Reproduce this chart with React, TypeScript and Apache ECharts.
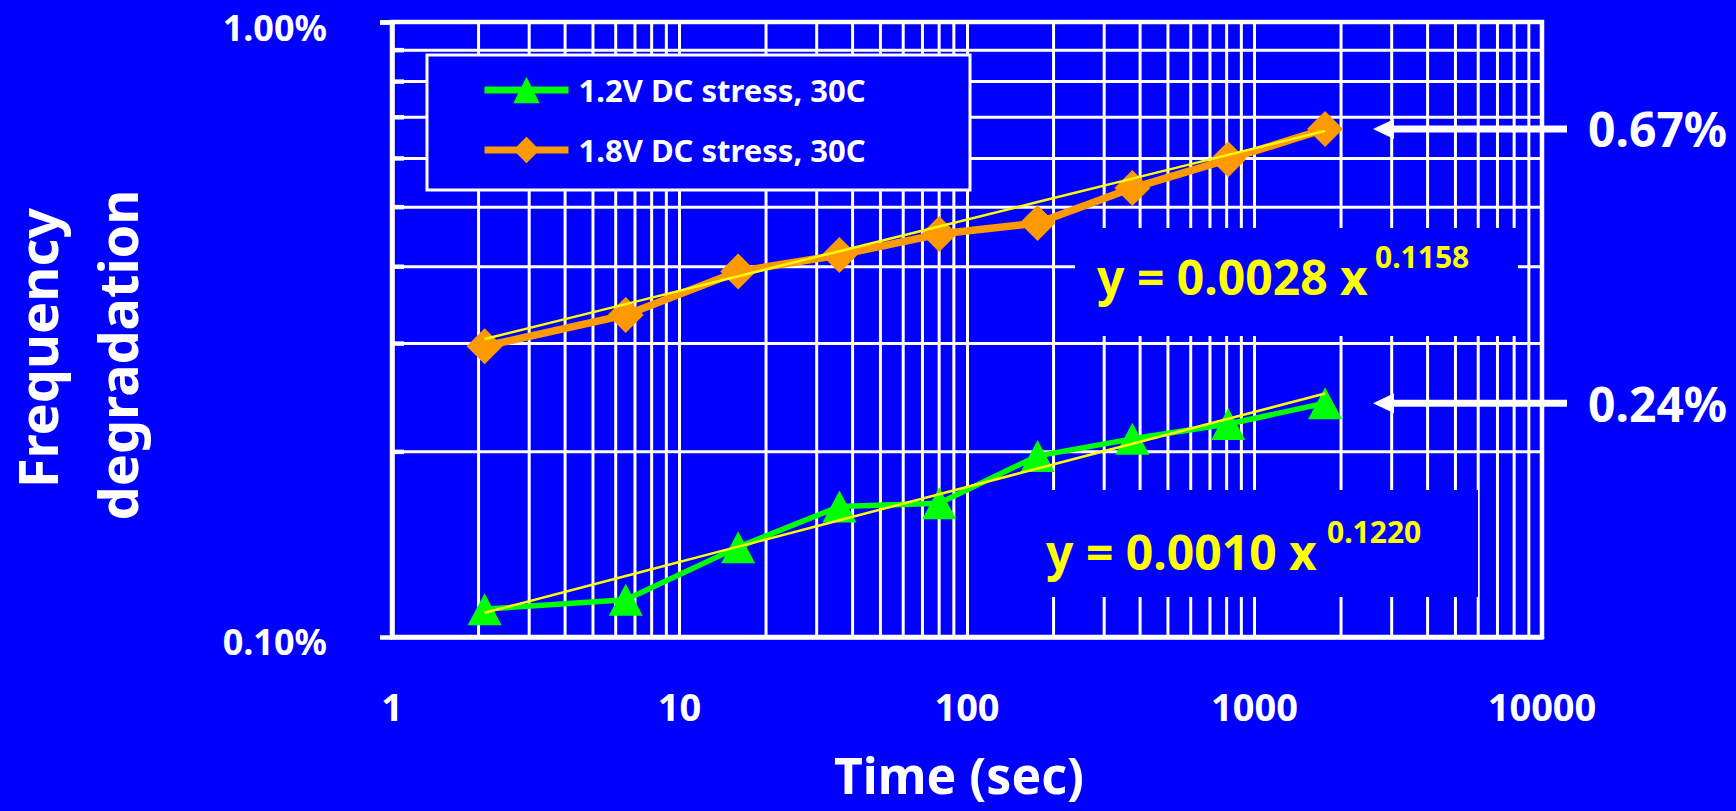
import React, { useEffect, useRef } from "react";
import * as echarts from "echarts";

// Stress time (s) and measured frequency degradation (fraction)
const timeSec = [2.1, 6.5, 16, 36, 80, 176, 376, 810, 1760];
const deg12V = [0.00111, 0.00115, 0.0014, 0.00163, 0.00165, 0.00197, 0.0021, 0.00222, 0.0024];
const deg18V = [0.00297, 0.00334, 0.00393, 0.00418, 0.00452, 0.00471, 0.00537, 0.00598, 0.0067];

const seriesNames = ["1.2V DC stress, 30C", "1.8V DC stress, 30C"];

// Power-law fits y = a * x^b, as printed next to each curve
const fitCoef12V = { a: 0.001, b: 0.122 };
const fitCoef18V = { a: 0.0028, b: 0.1158 };
const fitMainText = ["y = 0.0010 x", "y = 0.0028 x"];
const fitExpText = ["0.1220", "0.1158"];

// Final values called out at the right
const calloutValues = [0.0067, 0.0024];
const calloutLabels = ["0.67%", "0.24%"];

// Axis ranges and minor grid steps (log decades)
const X_MIN = 1;
const X_MAX = 10000;
const Y_MIN = 0.001;
const Y_MAX = 0.01;
const yTickValues = [Y_MIN, Y_MAX];
const xDecades = [1, 10, 100, 1000];
const yDecades = [0.001];
const minorSteps = [2, 3, 4, 5, 6, 7, 8, 9];

const BLUE = "#0000ff";
const WHITE = "#ffffff";
const GREEN = "#00ff00";
const ORANGE = "#ff9900";
const YELLOW = "#ffff00";
const FONT = '"Noto Sans", "Open Sans", sans-serif';
const GRID_W = 3;

const minorGrid = [
  ...xDecades.flatMap((d) => minorSteps.map((m) => [d * m, Y_MIN, 0])),
  ...yDecades.flatMap((d) => minorSteps.map((m) => [X_MIN, d * m, 1])),
];

const fitLine = (c: { a: number; b: number }) =>
  timeSec.map((t) => [t, c.a * Math.pow(t, c.b)]);

const pct = (v: number) => (v * 100).toFixed(2) + "%";

export default function App() {
  const ref = useRef<HTMLDivElement>(null);

  useEffect(() => {
    const el = ref.current;
    if (!el) return;
    const chart = echarts.init(el, null, { renderer: "svg" });

    chart.setOption({
      animation: false,
      backgroundColor: BLUE,
      grid: {
        left: 392,
        top: 22,
        width: 1150,
        height: 615,
        show: true,
        backgroundColor: "transparent",
        borderColor: WHITE,
        borderWidth: 4.5,
      },
      legend: {
        data: seriesNames,
        orient: "vertical",
        left: 481,
        top: 73.5,
        padding: 0,
        itemWidth: 84,
        itemHeight: 33,
        itemGap: 27,
        selectedMode: false,
        lineStyle: { width: 7 },
        textStyle: {
          color: WHITE,
          fontSize: 31,
          lineHeight: 33,
          fontWeight: "bold",
          fontFamily: FONT,
          padding: [0, 0, 0, 5],
        },
        z: 6,
      },
      xAxis: {
        type: "log",
        logBase: 10,
        min: X_MIN,
        max: X_MAX,
        axisLine: { show: true, lineStyle: { color: WHITE, width: 4.5 } },
        axisTick: { show: false },
        axisLabel: {
          color: WHITE,
          fontSize: 38,
          fontWeight: "bold",
          fontFamily: FONT,
          margin: 50,
          formatter: (v: number) => String(Math.round(v)),
        },
        splitLine: { show: true, lineStyle: { color: WHITE, width: GRID_W } },
      },
      yAxis: {
        type: "log",
        logBase: 10,
        min: Y_MIN,
        max: Y_MAX,
        axisLine: { show: true, lineStyle: { color: WHITE, width: 4.5 } },
        axisTick: { show: true, inside: false, length: 12, lineStyle: { color: WHITE, width: 4.5 } },
        axisLabel: { show: false },
        splitLine: { show: true, lineStyle: { color: WHITE, width: GRID_W } },
      },
      series: [
        {
          type: "custom",
          name: "minor-grid",
          coordinateSystem: "cartesian2d",
          silent: true,
          z: 0.5,
          data: minorGrid,
          renderItem: (_params: any, api: any) => {
            const kind = api.value(2);
            if (kind === 0) {
              const x = api.value(0);
              const a = api.coord([x, Y_MIN]);
              const b = api.coord([x, Y_MAX]);
              return {
                type: "line",
                shape: { x1: a[0], y1: a[1], x2: b[0], y2: b[1] },
                style: { stroke: WHITE, lineWidth: GRID_W },
              };
            }
            const y = api.value(1);
            const a = api.coord([X_MIN, y]);
            const b = api.coord([X_MAX, y]);
            return {
              type: "group",
              children: [
                {
                  type: "line",
                  shape: { x1: a[0], y1: a[1], x2: b[0], y2: b[1] },
                  style: { stroke: WHITE, lineWidth: GRID_W },
                },
                {
                  type: "line",
                  shape: { x1: a[0], y1: a[1], x2: a[0] + 12, y2: a[1] },
                  style: { stroke: WHITE, lineWidth: 4.5 },
                },
              ],
            };
          },
        },
        {
          name: seriesNames[0],
          type: "line",
          data: timeSec.map((t, i) => [t, deg12V[i]]),
          symbol: "triangle",
          symbolSize: [34, 32],
          itemStyle: { color: GREEN },
          lineStyle: { color: GREEN, width: 5.5 },
          z: 2,
        },
        {
          name: seriesNames[1],
          type: "line",
          data: timeSec.map((t, i) => [t, deg18V[i]]),
          symbol: "diamond",
          symbolSize: 36,
          itemStyle: { color: ORANGE },
          lineStyle: { color: ORANGE, width: 7.5 },
          z: 2,
        },
        {
          name: "fit-1.2V",
          type: "line",
          data: fitLine(fitCoef12V),
          symbol: "none",
          lineStyle: { color: YELLOW, width: 2.5 },
          z: 3,
        },
        {
          name: "fit-1.8V",
          type: "line",
          data: fitLine(fitCoef18V),
          symbol: "none",
          lineStyle: { color: YELLOW, width: 2.5 },
          z: 3,
        },
      ],
    });

    const toPx = (x: number, y: number) =>
      chart.convertToPixel({ gridIndex: 0 }, [x, y]) as number[];

    const boxStyle = { fill: BLUE, stroke: null as any, lineWidth: 0 };
    const textStyle = (text: string, size: number, fill: string, align = "left") => ({
      text,
      fill,
      font: `bold ${size}px ${FONT}`,
      lineHeight: size,
      align,
      verticalAlign: "middle",
    });

    const elements: any[] = [
      // legend frame
      {
        type: "rect",
        z: 1,
        shape: { x: 427, y: 55, width: 543, height: 135 },
        style: { fill: BLUE, stroke: WHITE, lineWidth: 3 },
      },
      // equation panels
      { type: "rect", z: 1, shape: { x: 1075, y: 228, width: 443, height: 108 }, style: boxStyle },
      { type: "rect", z: 1, shape: { x: 1030, y: 490, width: 448, height: 107 }, style: boxStyle },
      { type: "text", z: 5, x: 1097, y: 276, style: textStyle(fitMainText[1], 48, YELLOW) },
      { type: "text", z: 5, x: 1375, y: 256, style: textStyle(fitExpText[1], 30, YELLOW) },
      { type: "text", z: 5, x: 1046, y: 551, style: textStyle(fitMainText[0], 48, YELLOW) },
      { type: "text", z: 5, x: 1327, y: 531, style: textStyle(fitExpText[0], 30, YELLOW) },
      // axis titles
      { type: "text", z: 5, x: 959, y: 775, style: textStyle("Time (sec)", 50, WHITE, "center") },
      {
        type: "text",
        z: 5,
        x: 37,
        y: 348,
        rotation: Math.PI / 2,
        style: textStyle("Frequency", 54, WHITE, "center"),
      },
      {
        type: "text",
        z: 5,
        x: 117,
        y: 355,
        rotation: Math.PI / 2,
        style: textStyle("degradation", 54, WHITE, "center"),
      },
    ];

    // y tick labels, placed at their axis values
    yTickValues.forEach((v) => {
      const p = toPx(X_MIN, v);
      elements.push({
        type: "text",
        z: 5,
        x: p[0] - 65,
        y: Math.max(p[1] + 4, 27),
        style: textStyle(pct(v), 36, WHITE, "right"),
      });
    });

    calloutValues.forEach((v, i) => {
      const py = toPx(X_MAX, v)[1];
      elements.push(
        {
          type: "line",
          z: 5,
          shape: { x1: 1567, y1: py, x2: 1390, y2: py },
          style: { stroke: WHITE, lineWidth: 7 },
        },
        {
          type: "polygon",
          z: 5,
          shape: { points: [[1373, py], [1394, py - 10], [1394, py + 10]] },
          style: { fill: WHITE },
        },
        { type: "text", z: 5, x: 1588, y: py, style: textStyle(calloutLabels[i], 48, WHITE) }
      );
    });

    chart.setOption({ graphic: { elements } });

    return () => chart.dispose();
  }, []);

  return (
    <div
      ref={ref}
      style={{ position: "fixed", left: 0, top: 0, width: 1736, height: 811 }}
    />
  );
}
